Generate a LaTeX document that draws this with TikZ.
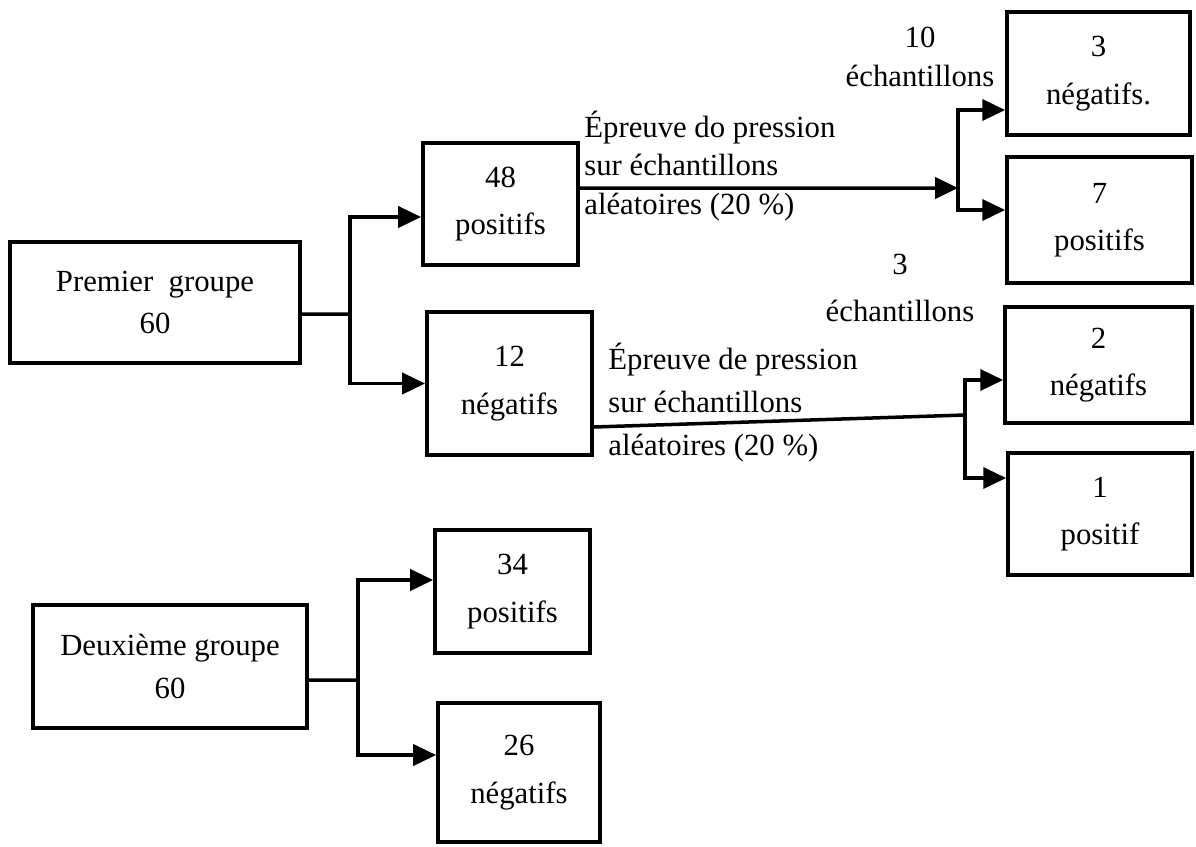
\documentclass[tikz,border=0pt]{standalone}
\usepackage{fontspec}
\setmainfont{Liberation Serif}
\usetikzlibrary{arrows.meta,positioning}
\tikzset{
    box/.style={draw, line width=2.2pt, align=center, inner sep=2pt, font=\fontsize{17.5}{27}\selectfont},
    groupbox/.style={box, font=\fontsize{17.5}{24}\selectfont},
    link/.style={draw, line width=2pt},
    flow/.style={draw, line width=2pt, -{Triangle[length=13pt, width=12pt]}},
    note/.style={inner sep=0pt, font=\fontsize{17.5}{22}\selectfont}
}
\begin{document}
\begin{tikzpicture}[x=0.02cm, y=-0.02cm]
\useasboundingbox (0,0) rectangle (1196,846);

% Groups
\node[groupbox, minimum width=5.80cm, minimum height=2.42cm] (prem) at (155,302.5) {Premier~~groupe\\60};
\node[groupbox, minimum width=5.48cm, minimum height=2.46cm] (deux) at (170,666.5) {Deuxième groupe\\60};

% First results
\node[box, minimum width=3.10cm, minimum height=2.44cm] (pos48) at (500.5,204) {48\\positifs};
\node[box, minimum width=3.30cm, minimum height=2.86cm] (neg12) at (509.5,383.5) {12\\négatifs};
\node[box, minimum width=3.10cm, minimum height=2.46cm] (pos34) at (512.5,591.5) {34\\positifs};
\node[box, minimum width=3.24cm, minimum height=2.78cm] (neg26) at (519,772.5) {26\\négatifs};

% Pressure test results
\node[box, minimum width=3.66cm, minimum height=2.46cm] (neg3) at (1098.5,73.5) {3\\négatifs.};
\node[box, minimum width=3.70cm, minimum height=2.52cm] (pos7) at (1099.5,220) {7\\positifs};
\node[box, minimum width=3.74cm, minimum height=2.32cm] (neg2) at (1098.5,365) {2\\négatifs};
\node[box, minimum width=3.68cm, minimum height=2.44cm] (pos1) at (1100,514) {1\\positif};

% Labels
\node[note, align=left, anchor=west] (test1) at (584,166) {Épreuve do pression\\sur échantillons\\aléatoires (20 \%)};
\node[note, align=left, anchor=west, font=\fontsize{17.5}{24.5}\selectfont] (test2) at (608,403) {Épreuve de pression\\sur échantillons\\aléatoires (20 \%)};
\node[note, align=center] (ten) at (920,57) {10\\échantillons};
\node[note, align=center, font=\fontsize{17.5}{26.5}\selectfont] (three) at (900,288) {3\\échantillons};

% Junctions
\coordinate (j1) at (350,314);
\coordinate (j2) at (958,188);
\coordinate (j3) at (965,415);
\coordinate (j4) at (358,680);

% Connectors
\draw[link] ([yshift=-0.23cm]prem.east) -- (j1);
\draw[flow] (j1) |- ([yshift=-0.26cm]pos48.west);
\draw[flow] (j1) |- (neg12.west);

\draw[flow] ([yshift=0.32cm]pos48.east) -- (j2);
\draw[flow] (j2) |- ([yshift=-0.73cm]neg3.west);
\draw[flow] (j2) |- ([yshift=0.2cm]pos7.west);

\draw[link] ([yshift=-0.87cm]neg12.east) -- (j3);
\draw[flow] (j3) |- ([yshift=-0.3cm]neg2.west);
\draw[flow] (j3) |- ([yshift=0.72cm]pos1.west);

\draw[link] ([yshift=-0.27cm]deux.east) -- (j4);
\draw[flow] (j4) |- ([yshift=0.23cm]pos34.west);
\draw[flow] (j4) |- ([yshift=0.35cm]neg26.west);
\end{tikzpicture}
\end{document}
